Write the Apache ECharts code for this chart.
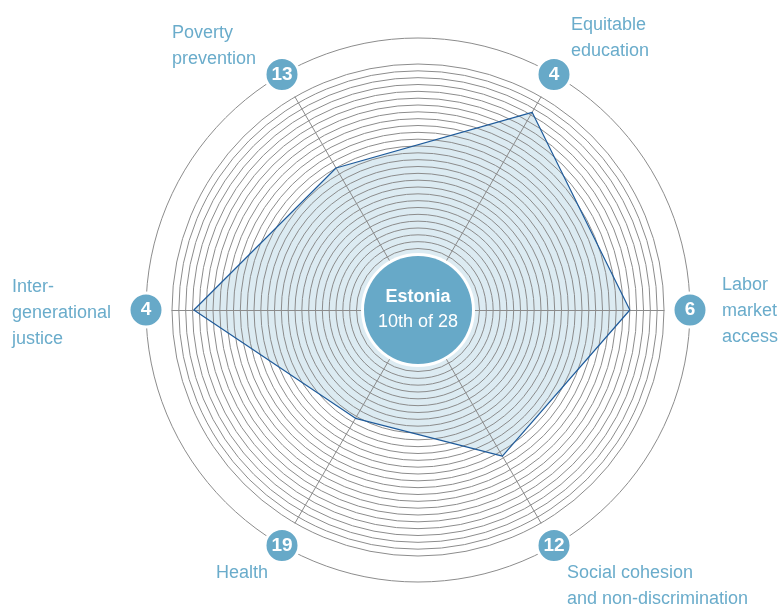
<!DOCTYPE html>
<html><head><meta charset="utf-8">
<script src="https://cdn.jsdelivr.net/npm/echarts@6/dist/echarts.min.js"></script>
<style>html,body{margin:0;padding:0;background:#fff}#c{width:781px;height:606px}</style>
</head><body><div id="c"></div>
<script>
// Dimensions in counter-clockwise order starting at the right (east)
var categories = ['Labor market access', 'Equitable education', 'Poverty prevention', 'Inter-generational justice', 'Health', 'Social cohesion and non-discrimination'];
var labelTexts = ['Labor\nmarket\naccess', 'Equitable\neducation', 'Poverty\nprevention', 'Inter-\ngenerational\njustice', 'Health', 'Social cohesion\nand non-discrimination'];
var ranks = [6, 4, 13, 4, 19, 12];
var scores = [31.0, 33.4, 24.0, 32.8, 18.3, 24.7];
var angles = [0, 60, 120, 180, 240, 300];
var country = 'Estonia';
var overall = '10th of 28';

var FONT = "'Liberation Sans', Arial, sans-serif";
var BLUE = '#67a9c8';
var LABEL = '#6aaccb';
var GRID = '#8c8c8c';
var cx = 418, cy = 310, webR = 246, outerR = 272;

var chart = echarts.init(document.getElementById('c'));

var labelPos = [
  {x: 722, y: 272}, {x: 571, y: 12}, {x: 172, y: 20},
  {x: 12, y: 274}, {x: 216, y: 560}, {x: 567, y: 560}
];

var graphics = labelTexts.map(function (t, i) {
  return {
    type: 'text', z: 100,
    style: {x: labelPos[i].x, y: labelPos[i].y, text: t, fill: LABEL,
      font: '18px ' + FONT, lineHeight: 26, verticalAlign: 'top', align: 'left'}
  };
});
graphics.push({type: 'circle', z: 100, shape: {cx: cx, cy: cy, r: 57}, style: {fill: '#fff'}});
graphics.push({type: 'circle', z: 101, shape: {cx: cx, cy: cy, r: 54}, style: {fill: BLUE}});
graphics.push({type: 'text', z: 102, style: {x: cx, y: cy - 13, text: country, fill: '#fff',
  font: 'bold 18px ' + FONT, align: 'center', verticalAlign: 'middle'}});
graphics.push({type: 'text', z: 102, style: {x: cx, y: cy + 12, text: overall, fill: '#fff',
  font: '18px ' + FONT, align: 'center', verticalAlign: 'middle'}});

chart.setOption({
  animation: false,
  radar: {
    center: [cx, cy], radius: webR, startAngle: 0, shape: 'circle', splitNumber: 36, z: 2,
    indicator: categories.map(function (c) { return {name: c, min: 0, max: 36}; }),
    axisName: {show: false},
    splitArea: {show: false},
    splitLine: {lineStyle: {color: GRID, width: 1}},
    axisLine: {lineStyle: {color: GRID, width: 1}},
    axisTick: {show: false}, axisLabel: {show: false}
  },
  polar: {center: [cx, cy], radius: outerR},
  angleAxis: {type: 'value', min: 0, max: 360, startAngle: 0, clockwise: false,
    axisLine: {lineStyle: {color: GRID, width: 1}},
    axisTick: {show: false}, axisLabel: {show: false}, splitLine: {show: false}},
  radiusAxis: {type: 'value', min: 0, max: 1, show: false},
  series: [
    {type: 'radar', symbol: 'none', z: 1,
      lineStyle: {width: 0, opacity: 0},
      areaStyle: {color: '#dcebf2', opacity: 1},
      data: [{value: scores, name: country}]},
    {type: 'radar', symbol: 'none', z: 4,
      lineStyle: {color: '#1f5b9b', width: 1.2},
      data: [{value: scores, name: country}]},
    {type: 'scatter', coordinateSystem: 'polar', symbolSize: 34, z: 5,
      itemStyle: {color: BLUE, borderColor: '#fff', borderWidth: 3, opacity: 1},
      label: {show: true, position: 'inside', color: '#fff', fontWeight: 'bold', fontSize: 19, fontFamily: FONT,
        formatter: function (p) { return p.value[2]; }},
      data: ranks.map(function (r, i) { return [1, angles[i], r]; })}
  ],
  graphic: graphics
});
</script></body></html>
